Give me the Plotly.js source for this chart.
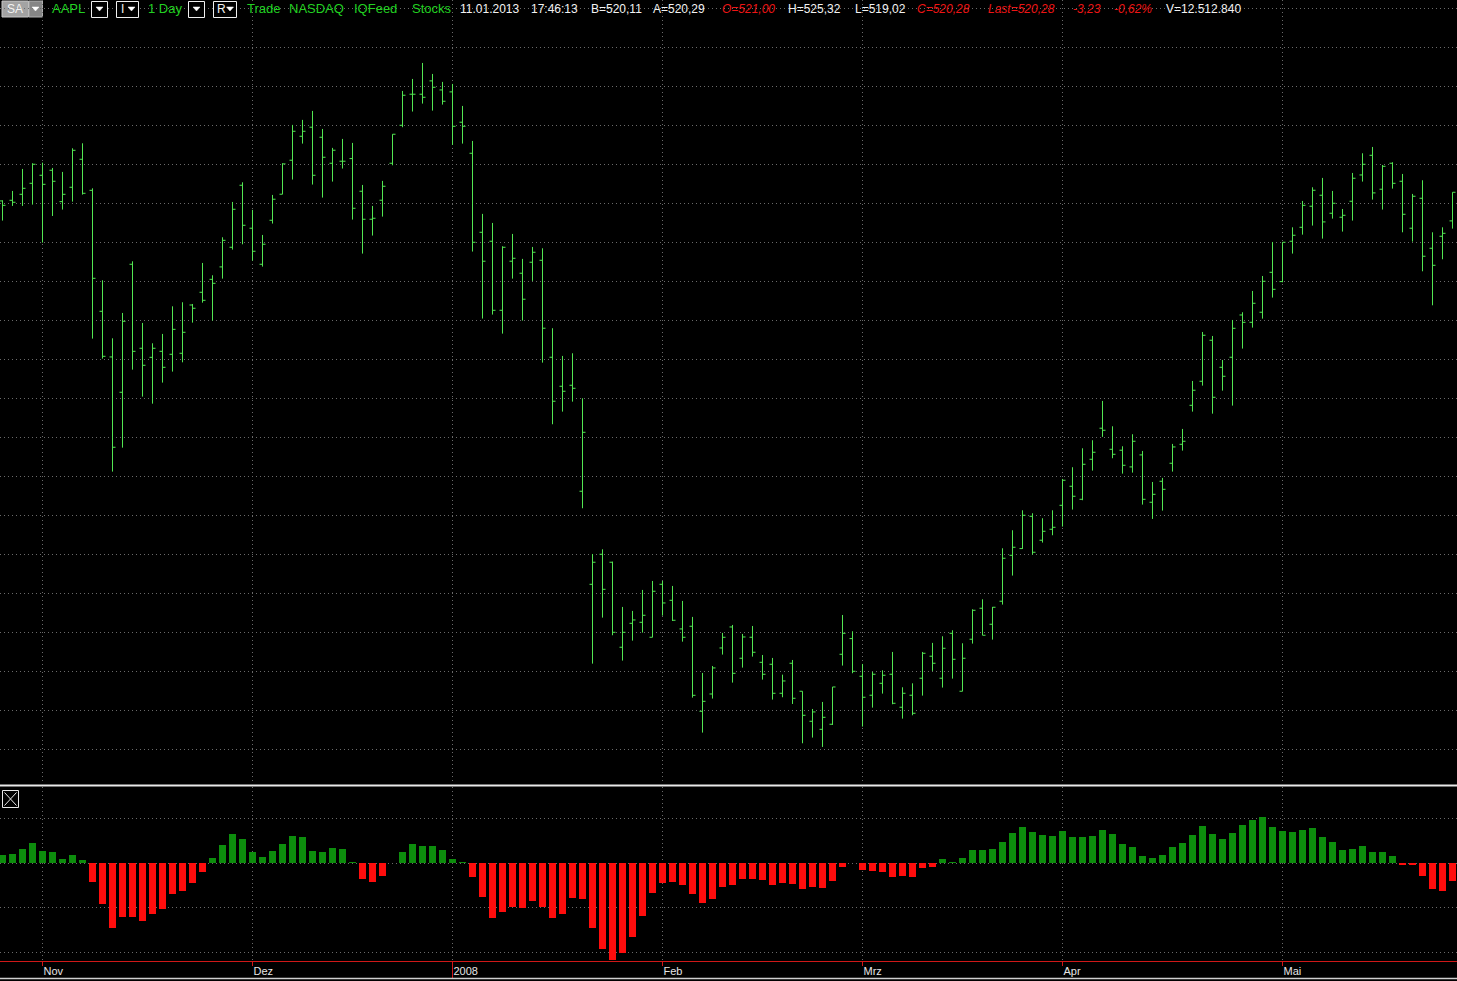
<!DOCTYPE html>
<html>
<head>
<meta charset="utf-8">
<script src="https://cdn.plot.ly/plotly-3.0.1.min.js"></script>
<style>
html,body{margin:0;padding:0;background:#000;overflow:hidden;}
#chart{width:1457px;height:981px;}
</style>
</head>
<body>
<div id="chart"></div>
<script>
// Trading days (categories)
const dates = [
'2007-10-26','2007-10-29','2007-10-30','2007-10-31','2007-11-01','2007-11-02','2007-11-05','2007-11-06','2007-11-07','2007-11-08',
'2007-11-09','2007-11-12','2007-11-13','2007-11-14','2007-11-15','2007-11-16','2007-11-19','2007-11-20','2007-11-21','2007-11-23',
'2007-11-26','2007-11-27','2007-11-28','2007-11-29','2007-11-30','2007-12-03','2007-12-04','2007-12-05','2007-12-06','2007-12-07',
'2007-12-10','2007-12-11','2007-12-12','2007-12-13','2007-12-14','2007-12-17','2007-12-18','2007-12-19','2007-12-20','2007-12-21',
'2007-12-24','2007-12-26','2007-12-27','2007-12-28','2007-12-31','2008-01-02','2008-01-03','2008-01-04','2008-01-07','2008-01-08',
'2008-01-09','2008-01-10','2008-01-11','2008-01-14','2008-01-15','2008-01-16','2008-01-17','2008-01-18','2008-01-22','2008-01-23',
'2008-01-24','2008-01-25','2008-01-28','2008-01-29','2008-01-30','2008-01-31','2008-02-01','2008-02-04','2008-02-05','2008-02-06',
'2008-02-07','2008-02-08','2008-02-11','2008-02-12','2008-02-13','2008-02-14','2008-02-15','2008-02-19','2008-02-20','2008-02-21',
'2008-02-22','2008-02-25','2008-02-26','2008-02-27','2008-02-28','2008-02-29','2008-03-03','2008-03-04','2008-03-05','2008-03-06',
'2008-03-07','2008-03-10','2008-03-11','2008-03-12','2008-03-13','2008-03-14','2008-03-17','2008-03-18','2008-03-19','2008-03-20',
'2008-03-24','2008-03-25','2008-03-26','2008-03-27','2008-03-28','2008-03-31','2008-04-01','2008-04-02','2008-04-03','2008-04-04',
'2008-04-07','2008-04-08','2008-04-09','2008-04-10','2008-04-11','2008-04-14','2008-04-15','2008-04-16','2008-04-17','2008-04-18',
'2008-04-21','2008-04-22','2008-04-23','2008-04-24','2008-04-25','2008-04-28','2008-04-29','2008-04-30','2008-05-01','2008-05-02',
'2008-05-05','2008-05-06','2008-05-07','2008-05-08','2008-05-09','2008-05-12','2008-05-13','2008-05-14','2008-05-15','2008-05-16',
'2008-05-19','2008-05-20','2008-05-21','2008-05-22','2008-05-23','2008-05-27'];

const openP = [185.30,185.38,186.15,187.56,188.59,189.23,185.21,187.05,190.64,186.66,
171.15,165.30,160.77,177.18,166.41,165.25,166.02,165.64,165.77,171.96,
173.59,175.25,176.84,179.36,187.31,181.80,177.18,182.82,186.16,190.52,
193.59,194.75,193.46,190.13,190.39,190.73,186.54,182.95,185.39,190.13,
195.00,198.98,198.98,200.69,199.53,199.28,195.39,191.41,181.28,180.13,
171.28,177.57,176.03,177.44,177.69,165.26,161.54,161.67,148.08,136.15,
140.00,138.98,128.08,131.15,131.28,129.36,136.15,134.10,130.43,130.77,
119.87,122.09,127.99,130.68,126.67,129.36,126.15,125.90,122.18,126.03,
122.44,118.59,117.56,118.21,127.18,129.19,124.36,121.93,123.46,124.62,
120.39,121.93,124.11,126.93,124.11,129.87,122.44,129.11,133.08,131.03,
133.98,139.87,140.73,144.87,141.80,143.21,146.28,148.72,147.05,152.18,
156.16,153.46,153.34,151.20,152.74,146.67,149.36,151.67,154.10,159.10,
162.18,167.44,163.97,165.26,170.68,169.74,171.03,176.15,174.96,180.13,
181.92,184.62,186.03,183.72,183.21,185.26,188.63,191.15,186.80,190.13,
187.82,181.80,185.64,179.23,180.77,182.74];

const highP = [185.38,186.58,189.40,190.13,190.21,189.53,189.02,192.05,192.69,186.92,
175.13,167.69,170.94,177.56,169.66,167.05,168.25,171.79,172.31,172.09,
177.35,175.77,180.64,185.17,187.69,184.15,180.94,186.07,190.13,195.05,
195.69,196.84,194.53,192.10,193.25,192.74,187.35,184.66,187.87,193.85,
199.40,200.94,202.99,201.58,200.56,200.30,197.48,192.99,183.64,182.48,
179.49,181.07,177.87,179.40,179.23,168.98,165.43,165.77,160.00,140.04,
140.64,139.06,133.25,132.74,135.43,136.58,136.58,135.94,134.02,131.97,
124.79,125.68,129.92,130.94,129.79,130.81,127.09,126.71,124.57,126.45,
122.44,120.17,121.07,122.99,132.22,130.13,125.94,124.92,125.13,127.48,
122.95,123.46,127.48,128.64,129.49,130.26,128.59,132.95,134.23,133.25,
140.77,143.08,145.64,145.26,144.62,145.64,149.66,151.16,153.59,154.62,
159.66,156.41,153.85,155.39,153.25,149.27,149.79,154.15,156.07,162.22,
168.50,167.99,164.91,170.04,171.03,173.76,175.68,180.04,180.00,181.92,
185.30,187.05,188.25,186.58,184.27,188.89,191.41,192.22,189.91,190.26,
188.76,186.20,187.95,181.28,181.92,186.41];

const lowP = [182.78,184.66,184.66,184.83,179.96,183.37,184.19,185.21,186.11,167.65,
165.08,150.60,153.67,163.67,160.21,159.31,162.01,163.42,164.61,169.70,
172.26,169.96,175.34,179.06,179.74,177.65,176.88,182.40,186.16,188.04,
192.65,187.40,185.73,187.78,189.45,182.91,178.55,180.86,183.29,189.87,
194.75,196.76,197.78,196.88,197.65,192.48,192.65,178.81,170.22,170.73,
168.29,175.34,169.96,175.05,164.57,156.67,158.29,159.57,145.90,125.98,
131.88,129.62,126.37,128.93,129.96,129.36,132.14,131.45,128.80,121.62,
117.14,121.50,127.14,123.55,125.47,126.88,123.93,121.37,121.67,120.81,
115.77,116.50,115.30,118.12,125.73,124.75,117.91,120.34,122.14,120.77,
118.93,119.36,121.88,125.05,122.91,124.06,122.44,128.55,129.62,129.06,
133.55,137.27,140.69,139.96,141.50,142.44,143.55,145.73,146.93,150.73,
155.05,152.31,150.34,150.47,146.37,144.53,145.60,150.60,153.29,158.29,
161.62,158.03,160.98,159.06,166.37,169.06,170.21,172.91,174.87,178.55,
180.98,182.14,180.47,183.03,181.37,182.78,187.78,185.47,184.19,186.88,
181.28,180.09,176.28,171.92,177.82,181.75];

const closeP = [184.74,185.13,186.92,190.00,187.43,187.82,186.15,191.79,186.28,175.38,
165.38,153.72,169.87,166.02,164.23,166.41,163.97,168.84,168.46,171.54,
172.56,174.74,180.25,184.23,182.18,178.85,179.75,185.52,190.05,194.23,
194.23,188.59,190.90,191.80,190.39,184.36,182.95,183.08,187.18,193.85,
198.85,198.98,198.59,199.87,198.08,194.87,194.87,180.00,177.57,171.28,
179.36,177.95,172.70,178.72,168.98,159.62,160.90,161.28,155.64,138.98,
135.51,130.00,130.00,131.58,132.18,135.26,133.76,131.54,129.36,121.92,
121.15,125.43,129.36,124.74,129.40,127.44,124.62,122.18,123.76,121.54,
119.36,119.79,119.10,122.99,129.87,125.00,121.67,124.62,124.49,120.90,
122.18,119.62,127.31,126.03,127.95,126.54,126.67,132.82,129.62,133.21,
139.49,140.90,145.00,140.26,142.95,143.46,149.49,147.44,151.54,153.08,
155.90,152.82,151.41,154.49,147.05,147.69,148.33,153.76,154.49,161.03,
168.08,160.13,162.82,168.97,169.74,172.18,175.00,173.97,180.00,180.90,
184.74,186.67,182.61,185.00,183.46,188.21,190.00,186.33,189.74,187.56,
183.59,185.90,178.21,177.05,181.15,186.41];

// Oscillator histogram (lower pane)
const histVals = [0.37,0.42,0.64,0.91,0.55,0.51,0.19,0.37,0.15,-0.82,
-1.81,-2.88,-2.39,-2.39,-2.58,-2.27,-2.03,-1.36,-1.22,-0.87,
-0.37,0.25,0.82,1.31,1.09,0.52,0.30,0.55,0.87,1.22,
1.18,0.55,0.52,0.69,0.66,0.07,-0.69,-0.82,-0.55,0.03,
0.52,0.87,0.75,0.78,0.60,0.19,0.07,-0.60,-1.49,-2.43,
-2.16,-1.96,-1.99,-1.67,-1.96,-2.43,-2.25,-1.54,-1.58,-2.88,
-3.82,-4.31,-4.00,-3.28,-2.34,-1.31,-0.88,-0.82,-0.96,-1.36,
-1.76,-1.58,-1.04,-0.96,-0.69,-0.69,-0.73,-0.96,-0.87,-0.91,
-1.13,-1.04,-1.09,-0.78,-0.15,0.02,-0.28,-0.33,-0.37,-0.60,
-0.55,-0.61,-0.21,-0.15,0.19,0.07,0.24,0.60,0.60,0.64,
0.97,1.37,1.63,1.40,1.27,1.22,1.45,1.18,1.18,1.22,
1.49,1.31,0.87,0.73,0.33,0.24,0.37,0.73,0.91,1.27,
1.67,1.31,1.09,1.36,1.72,1.94,2.07,1.63,1.45,1.40,
1.49,1.58,1.18,0.96,0.60,0.64,0.78,0.51,0.51,0.33,
-0.07,-0.09,-0.55,-1.13,-1.22,-0.78];

// Month tick labels
const monthTicks = ['2007-11-01','2007-12-03','2008-01-02','2008-02-01','2008-03-03','2008-04-01','2008-05-01'];
const monthLabels = ['Nov','Dez','2008','Feb','Mrz','Apr','Mai'];

// Header texts
const headerItems = [
  ['SA',6,'w'],['AAPL',51,'g'],['I',119.5,'w'],['1 Day',146.5,'g'],['R',216,'w'],
  ['Trade',245.5,'g'],['NASDAQ',288,'g'],['IQFeed',353,'g'],['Stocks',410.5,'g'],
  ['11.01.2013',459,'w'],['17:46:13',530,'w'],['B=520,11',589.5,'w'],['A=520,29',652,'w'],
  ['O=521,00',720.5,'r'],['H=525,32',787,'w'],['L=519,02',854,'w'],['C=520,28',916,'r'],
  ['Last=520,28',987,'r'],['-3,23',1071.5,'r'],['-0,62%',1113,'r'],['V=12.512.840',1164.5,'w']
];

const W = 1457, H = 981;
const px = v => v / W;
const py = v => 1 - v / H;
const GRID = '#6a6a6a';
const BARGREEN = '#52e652';

const ohlc = {
  type: 'ohlc', x: dates, open: openP, high: highP, low: lowP, close: closeP,
  xaxis: 'x', yaxis: 'y',
  increasing: {line: {color: BARGREEN, width: 1}},
  decreasing: {line: {color: BARGREEN, width: 1}},
  tickwidth: 0.3, hoverinfo: 'skip', showlegend: false
};

const hist = {
  type: 'bar', x: dates, y: histVals, xaxis: 'x2', yaxis: 'y2',
  width: 0.7,
  marker: {color: histVals.map(v => v >= 0 ? '#0d8d0d' : '#ff0d0d'), line: {width: 0}},
  hoverinfo: 'skip', showlegend: false
};

const colorMap = {w: '#f2f2f2', g: '#22d022', r: '#ee1515'};
const annotations = headerItems.map(([t, x, c]) => ({
  text: t, xref: 'paper', yref: 'paper', x: px(x), y: py(8.5),
  xanchor: 'left', yanchor: 'middle', showarrow: false, borderpad: 0,
  font: {family: 'Liberation Sans, Arial, sans-serif', size: c === 'g' ? 13 : 12, color: colorMap[c],
         style: c === 'r' ? 'italic' : 'normal'}
}));

const shapes = [];
// header boxes
shapes.push({type:'rect', xref:'paper', yref:'paper', x0:px(2), x1:px(28.5), y0:py(17), y1:py(1),
  fillcolor:'#a3a3a3', line:{color:'#c8c8c8', width:1}, layer:'below'});
shapes.push({type:'rect', xref:'paper', yref:'paper', x0:px(29), x1:px(42.5), y0:py(17), y1:py(1),
  fillcolor:'#868686', line:{color:'#b0b0b0', width:1}, layer:'below'});
[[91,107],[116,138],[188,204],[213,236]].forEach(([a,b]) => {
  shapes.push({type:'rect', xref:'paper', yref:'paper', x0:px(a+0.5), x1:px(b+0.5), y0:py(17.5), y1:py(1.5),
    fillcolor:'#000000', line:{color:'#f0f0f0', width:1}});
});
[35.5, 99.5, 131.5, 196.5, 230].forEach(cx => {
  shapes.push({type:'path', xref:'paper', yref:'paper',
    path:`M ${px(cx-3.5)},${py(7)} L ${px(cx+3.5)},${py(7)} L ${px(cx)},${py(11)} Z`,
    fillcolor:'#ffffff', line:{color:'#ffffff', width:0.5}});
});
// pane separator
shapes.push({type:'line', xref:'paper', yref:'paper', x0:0, x1:1, y0:py(785.6), y1:py(785.6),
  line:{color:'#e8e8e8', width:2}});
// close box in lower pane
shapes.push({type:'rect', xref:'paper', yref:'paper', x0:px(2.5), x1:px(18.5), y0:py(807.5), y1:py(790.5),
  line:{color:'#e8e8e8', width:1}});
shapes.push({type:'line', xref:'paper', yref:'paper', x0:px(4.5), x1:px(16.5), y0:py(792.5), y1:py(805.5),
  line:{color:'#e8e8e8', width:1}});
shapes.push({type:'line', xref:'paper', yref:'paper', x0:px(4.5), x1:px(16.5), y0:py(805.5), y1:py(792.5),
  line:{color:'#e8e8e8', width:1}});
// year marker tick
shapes.push({type:'line', xref:'x2', yref:'paper', x0:monthTicks[2], x1:monthTicks[2], y0:py(978), y1:py(961),
  line:{color:'#d01818', width:1}});
// bottom frame line
shapes.push({type:'line', xref:'paper', yref:'paper', x0:0, x1:1, y0:py(978.6), y1:py(978.6),
  line:{color:'#cfcfcf', width:1.5}});

const xRange = [-0.25, 145.45];
const layout = {
  width: W, height: H,
  margin: {l:0, r:0, t:0, b:0, pad:0},
  paper_bgcolor: '#000000', plot_bgcolor: '#000000',
  showlegend: false, dragmode: false, bargap: 0,
  xaxis: {
    type: 'category', range: xRange, anchor: 'y',
    tickvals: monthTicks, ticktext: monthLabels,
    showticklabels: false, ticks: '', showline: false, zeroline: false,
    showgrid: true, gridcolor: GRID, griddash: '1px,3px', gridwidth: 1,
    rangeslider: {visible: false}, fixedrange: true
  },
  yaxis: {
    domain: [py(784), 1], range: [110.55, 211.06], dtick: 5, tick0: 0,
    showticklabels: false, ticks: '', zeroline: false, showline: false,
    showgrid: true, gridcolor: GRID, griddash: '1px,3px', gridwidth: 1, fixedrange: true
  },
  xaxis2: {
    type: 'category', range: xRange, anchor: 'y2',
    tickvals: monthTicks, ticktext: monthLabels,
    showticklabels: true, ticks: 'outside', ticklen: 4, tickwidth: 1, tickcolor: '#d01818',
    ticklabelposition: 'outside right',
    tickfont: {family: 'Liberation Sans, Arial, sans-serif', size: 11, color: '#e6e6e6'},
    showline: true, linecolor: '#d01818', linewidth: 1, zeroline: false,
    showgrid: true, gridcolor: GRID, griddash: '1px,3px', gridwidth: 1, fixedrange: true
  },
  yaxis2: {
    domain: [py(961), py(787)], range: [-4.37, 3.41], dtick: 2, tick0: 0,
    showticklabels: false, ticks: '', zeroline: false, showline: false,
    showgrid: true, gridcolor: GRID, griddash: '1px,3px', gridwidth: 1, fixedrange: true
  },
  shapes: shapes,
  annotations: annotations
};

Plotly.newPlot('chart', [ohlc, hist], layout, {displayModeBar: false, staticPlot: true});
</script>
</body>
</html>
